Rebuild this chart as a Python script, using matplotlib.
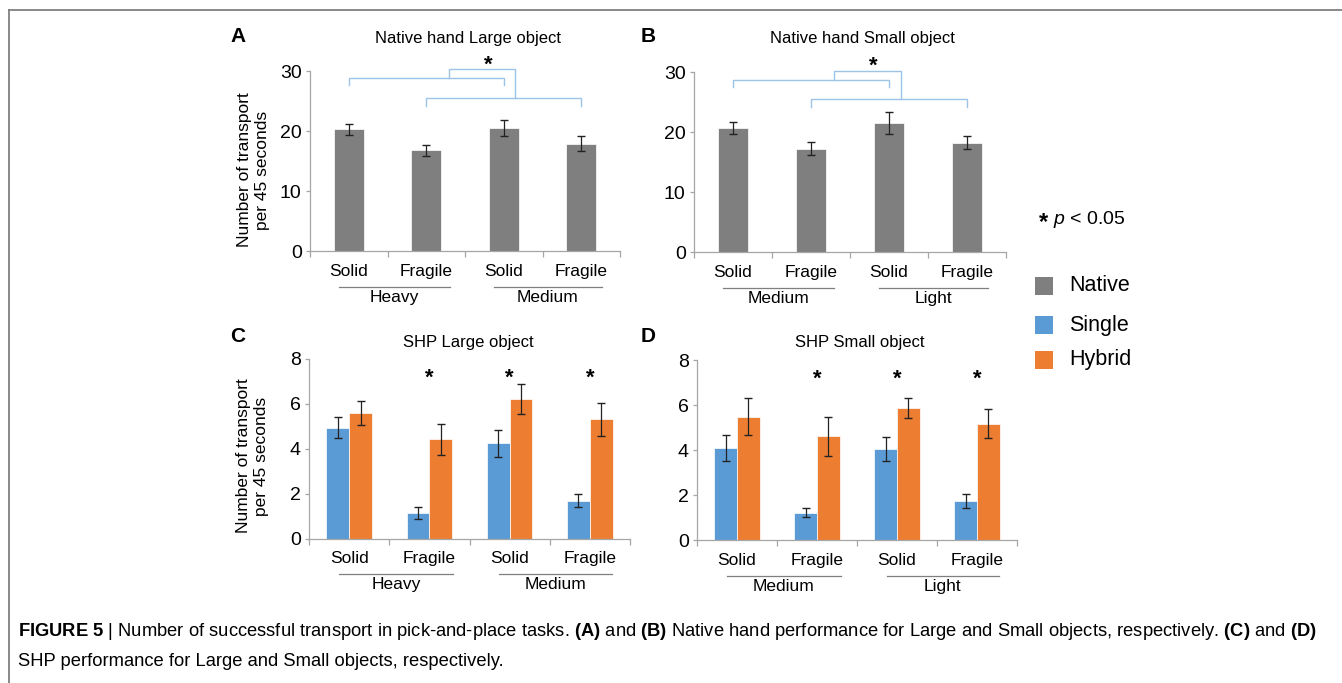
import numpy as np
import matplotlib
matplotlib.use('Agg')
import matplotlib.pyplot as plt
from matplotlib.lines import Line2D
from matplotlib.patches import Rectangle
from matplotlib import transforms

plt.rcParams['font.family'] = ['Liberation Sans', 'DejaVu Sans']
plt.rcParams['mathtext.fontset'] = 'custom'
plt.rcParams['mathtext.rm'] = 'Liberation Sans'
plt.rcParams['mathtext.it'] = 'Liberation Sans:italic'
plt.rcParams['mathtext.bf'] = 'Liberation Sans:bold'

# data
categories = ['Solid', 'Fragile', 'Solid', 'Fragile']
groups_large = ['Heavy', 'Medium']
groups_small = ['Medium', 'Light']

native_large = [20.3, 16.8, 20.5, 17.9]
native_large_err = [0.95, 0.9, 1.3, 1.25]
native_small = [20.7, 17.3, 21.5, 18.3]
native_small_err = [1.05, 1.1, 1.85, 1.1]

shp_large_single = [4.95, 1.14, 4.24, 1.70]
shp_large_single_err = [0.47, 0.27, 0.59, 0.29]
shp_large_hybrid = [5.59, 4.43, 6.22, 5.32]
shp_large_hybrid_err = [0.53, 0.69, 0.67, 0.73]
shp_small_single = [4.09, 1.23, 4.04, 1.75]
shp_small_single_err = [0.57, 0.19, 0.53, 0.30]
shp_small_hybrid = [5.50, 4.62, 5.87, 5.19]
shp_small_hybrid_err = [0.83, 0.87, 0.44, 0.64]
shp_significant = [False, True, True, True]

C_NATIVE = '#7f7f7f'
C_SINGLE = '#5b9bd5'
C_HYBRID = '#ed7d31'
C_AXIS = '#a6a6a6'
C_BRACKET = '#9dc3e6'

W, H = 1342, 683
fig = plt.figure(figsize=(W / 100, H / 100), dpi=100)


def px(x, y):
    return x / W, 1 - y / H


def add_axes(left, right, top, bottom):
    return fig.add_axes([left / W, 1 - bottom / H, (right - left) / W, (bottom - top) / H])


def style(ax, ymax, step, groups):
    x = np.arange(len(categories))
    ax.set_xlim(-0.5, 3.5)
    ax.set_ylim(0, ymax)
    ax.set_yticks(np.arange(0, ymax + 0.1, step))
    ax.set_xticks([-0.5, 0.5, 1.5, 2.5, 3.5])
    ax.set_xticklabels([])
    for s in ['top', 'right']:
        ax.spines[s].set_visible(False)
    for s in ['left', 'bottom']:
        ax.spines[s].set_color(C_AXIS)
        ax.spines[s].set_linewidth(0.9)
    ax.tick_params(axis='x', length=4, color=C_AXIS, width=0.9)
    ax.tick_params(axis='y', length=3, color=C_AXIS, width=0.9, labelsize=14, pad=3)
    for i, c in zip(x, categories):
        ax.annotate(c, xy=(i, 0), xycoords=('data', 'axes fraction'), xytext=(0, -14.5),
                    textcoords='offset points', ha='center', va='center', fontsize=12.5)
    under = transforms.offset_copy(ax.get_xaxis_transform(), fig=fig, y=-25.7, units='points')
    for (x0, x1), g in zip([(-0.13, 1.3), (1.87, 3.27)], groups):
        ax.plot([x0, x1], [0, 0], color=C_NATIVE, lw=0.9, transform=under, clip_on=False)
        ax.annotate(g, xy=((x0 + x1) / 2, 0), xycoords=('data', 'axes fraction'), xytext=(0, -33.3),
                    textcoords='offset points', ha='center', va='center', fontsize=12.5)


def native_panel(ax, vals, errs, groups):
    x = np.arange(len(categories))
    ax.bar(x, vals, width=0.39, color=C_NATIVE, edgecolor='white', linewidth=0.5, zorder=2)
    ax.errorbar(x, vals, yerr=errs, fmt='none', ecolor='#222222', elinewidth=0.9, capsize=3, zorder=3)
    style(ax, 30, 10, groups)
    kw = dict(color=C_BRACKET, lw=1, clip_on=False)
    ax.plot([0, 0, 2, 2], [27.6, 28.8, 28.8, 27.6], **kw)
    ax.plot([1, 1, 3, 3], [24.2, 25.5, 25.5, 24.2], **kw)
    ax.plot([1.29, 1.29, 2.15, 2.15], [28.8, 30.3, 30.3, 25.5], **kw)
    ax.text(1.8, 31.0, '*', ha='center', va='center', fontsize=16, fontweight='bold')


def shp_panel(ax, single, single_err, hybrid, hybrid_err, groups):
    x = np.arange(len(categories))
    w = 0.285
    ax.bar(x - w / 2, single, width=w, color=C_SINGLE, edgecolor='white', linewidth=0.5, zorder=2)
    ax.bar(x + w / 2, hybrid, width=w, color=C_HYBRID, edgecolor='white', linewidth=0.5, zorder=2)
    ax.errorbar(x - w / 2, single, yerr=single_err, fmt='none', ecolor='#222222', elinewidth=0.9, capsize=3, zorder=3)
    ax.errorbar(x + w / 2, hybrid, yerr=hybrid_err, fmt='none', ecolor='#222222', elinewidth=0.9, capsize=3, zorder=3)
    style(ax, 8, 2, groups)
    for i, sig in zip(x, shp_significant):
        if sig:
            ax.text(i, 7.15, '*', ha='center', va='center', fontsize=16, fontweight='bold')


axA = add_axes(310, 620, 71, 251)
axB = add_axes(694, 1006, 72.3, 252.3)
axC = add_axes(309, 630, 359, 538.7)
axD = add_axes(697, 1017, 360.3, 540.3)

native_panel(axA, native_large, native_large_err, groups_large)
native_panel(axB, native_small, native_small_err, groups_small)
shp_panel(axC, shp_large_single, shp_large_single_err, shp_large_hybrid, shp_large_hybrid_err, groups_large)
shp_panel(axD, shp_small_single, shp_small_single_err, shp_small_hybrid, shp_small_hybrid_err, groups_small)

# panel letters and titles
for (x, y), t in zip([(238, 37), (648, 37), (238, 336), (648, 336)], 'ABCD'):
    fig.text(*px(x, y), t, ha='center', va='center', fontsize=15, fontweight='bold')
titles = ['Native hand Large object', 'Native hand Small object', 'SHP Large object', 'SHP Small object']
for (x, y), t in zip([(468, 38), (862, 38), (468, 342), (860, 342)], titles):
    fig.text(*px(x, y), t, ha='center', va='center', fontsize=12)

for (x, y) in [(254, 170), (253, 456)]:
    fig.text(*px(x, y), 'Number of transport\nper 45 seconds', rotation=90, ha='center', va='center',
             fontsize=12.5, multialignment='center', linespacing=1.25)

# legend
fig.text(*px(1038, 222), r'$\mathbf{*}$', ha='left', va='center', fontsize=17)
fig.text(*px(1053, 220), '$p$ < 0.05', ha='left', va='center', fontsize=14)
for y, c, lab in [(286, C_NATIVE, 'Native'), (325, C_SINGLE, 'Single'), (360, C_HYBRID, 'Hybrid')]:
    x0, y0 = px(1035, y + 9)
    fig.patches.append(Rectangle((x0, y0), 18 / W, 18 / H, transform=fig.transFigure,
                                 facecolor=c, edgecolor='none'))
    fig.text(*px(1069, y), lab, ha='left', va='center', fontsize=15.5)

# frame
fig.lines.append(Line2D([9 / W, 1], [1 - 10 / H, 1 - 10 / H], transform=fig.transFigure, color='#808080', lw=1.3))
fig.lines.append(Line2D([9 / W, 9 / W], [0, 1 - 10 / H], transform=fig.transFigure, color='#808080', lw=1.3))

# caption
cap1 = (r'$\mathbf{FIGURE\ 5}$ | Number of successful transport in pick-and-place tasks. $\mathbf{(A)}$ and '
        r'$\mathbf{(B)}$ Native hand performance for Large and Small objects, respectively. $\mathbf{(C)}$ and $\mathbf{(D)}$')
cap2 = 'SHP performance for Large and Small objects, respectively.'
fig.text(*px(18, 631), cap1, ha='left', va='center', fontsize=13.2)
fig.text(*px(18, 662), cap2, ha='left', va='center', fontsize=13.2)

fig.savefig('out.png', dpi=100)
